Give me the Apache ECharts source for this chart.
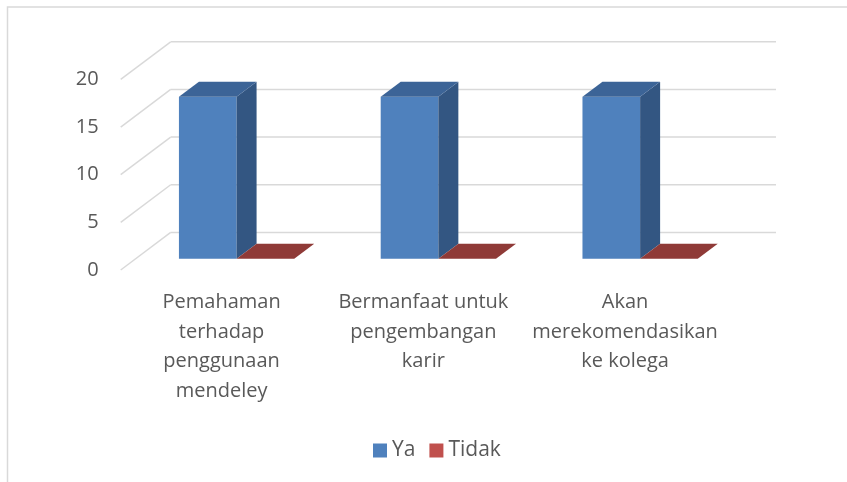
<!DOCTYPE html>
<html>
<head>
<meta charset="utf-8">
<script src="https://cdn.jsdelivr.net/npm/echarts@6/dist/echarts.min.js"></script>
<style>html,body{margin:0;padding:0;background:#fff}#c{width:847px;height:482px}</style>
</head>
<body>
<div id="c"></div>
<script>
// ---- data ----
const categories = ['Pemahaman\nterhadap\npenggunaan\nmendeley', 'Bermanfaat untuk\npengembangan\nkarir', 'Akan\nmerekomendasikan\nke kolega'];
const seriesNames = ['Ya', 'Tidak'];
const yaValues = [17, 17, 17];
const tidakValues = [0, 0, 0];
const yTicks = [0, 5, 10, 15, 20];

// ---- style / projection ----
const DX = 50, DY = -37.6;           // full depth vector of the floor
const GAP_DEPTH = 0.3, BAR_DEPTH = 0.4;
const faceColors = [
  { front: '#4F81BD', side: '#335682', top: '#3C6497', legend: '#4F81BD' },
  { front: '#C0504D', side: '#7E302E', top: '#8F3A37', legend: '#C0504D' }
];
const FONT = "'Open Sans', 'Noto Sans', sans-serif";

function barRender(k) {
  return function (params, api) {
    const ci = api.value(0), v = api.value(1);
    const c0 = api.coord([ci, 0]);
    const c1 = api.coord([ci, v]);
    const cw = api.size([1, 0])[0];
    const bw = cw / 3.5;
    const x0 = c0[0] - bw + k * bw + GAP_DEPTH * DX;
    const x1 = x0 + bw;
    const yb = c0[1] + GAP_DEPTH * DY;
    const yt = c1[1] + GAP_DEPTH * DY;
    const ddx = BAR_DEPTH * DX, ddy = BAR_DEPTH * DY;
    const col = faceColors[k];
    const children = [];
    if (yb - yt > 0.5) {
      children.push({ type: 'polygon', shape: { points: [[x0, yb], [x1, yb], [x1, yt], [x0, yt]] }, style: { fill: col.front } });
      children.push({ type: 'polygon', shape: { points: [[x1, yb], [x1 + ddx, yb + ddy], [x1 + ddx, yt + ddy], [x1, yt]] }, style: { fill: col.side } });
    }
    children.push({ type: 'polygon', shape: { points: [[x0, yt], [x1, yt], [x1 + ddx, yt + ddy], [x0 + ddx, yt + ddy]] }, style: { fill: col.top } });
    return { type: 'group', children: children };
  };
}

function gridRender(params, api) {
  const v = api.value(1);
  const cs = params.coordSys;
  const y = api.coord([0, v])[1];
  const xl = cs.x, xr = cs.x + cs.width;
  const st = { stroke: '#D9D9D9', lineWidth: 1.5, fill: null };
  return {
    type: 'group',
    children: [
      { type: 'line', shape: { x1: xl, y1: y, x2: xl + DX, y2: y + DY }, style: st },
      { type: 'line', shape: { x1: xl + DX, y1: y + DY, x2: xr + DX, y2: y + DY }, style: st }
    ]
  };
}

const chart = echarts.init(document.getElementById('c'));
chart.setOption({
  animation: false,
  textStyle: { fontFamily: FONT },
  graphic: [{
    type: 'polyline', silent: true,
    shape: { points: [[7.5, 482], [7.5, 7], [847, 7]] },
    style: { stroke: '#D9D9D9', lineWidth: 1.5, fill: null }
  }],
  grid: { left: 120.7, right: 121, top: 79.4, bottom: 212 },
  xAxis: {
    type: 'category', data: categories,
    axisLine: { show: false }, axisTick: { show: false }, splitLine: { show: false },
    axisLabel: { interval: 0, fontSize: 20, lineHeight: 29.5, color: '#595959', margin: 18, fontFamily: FONT }
  },
  yAxis: {
    type: 'value', min: 0, max: 20, interval: 5,
    axisLine: { show: false }, axisTick: { show: false }, splitLine: { show: false },
    axisLabel: { fontSize: 20, color: '#595959', margin: 22, fontFamily: FONT }
  },
  legend: {
    data: seriesNames, left: 368, top: 435, icon: 'rect', itemWidth: 14, itemHeight: 14, itemGap: 14,
    textStyle: { fontSize: 21, color: '#595959', fontFamily: FONT }
  },
  series: [
    { type: 'custom', name: '_grid', z: 1, silent: true, itemStyle: { color: '#D9D9D9' }, renderItem: gridRender, data: yTicks.map(v => [0, v]) },
    { type: 'custom', name: seriesNames[0], z: 2, itemStyle: { color: faceColors[0].legend }, renderItem: barRender(0), data: yaValues.map((v, i) => [i, v]) },
    { type: 'custom', name: seriesNames[1], z: 3, itemStyle: { color: faceColors[1].legend }, renderItem: barRender(1), data: tidakValues.map((v, i) => [i, v]) }
  ]
});
</script>
</body>
</html>
